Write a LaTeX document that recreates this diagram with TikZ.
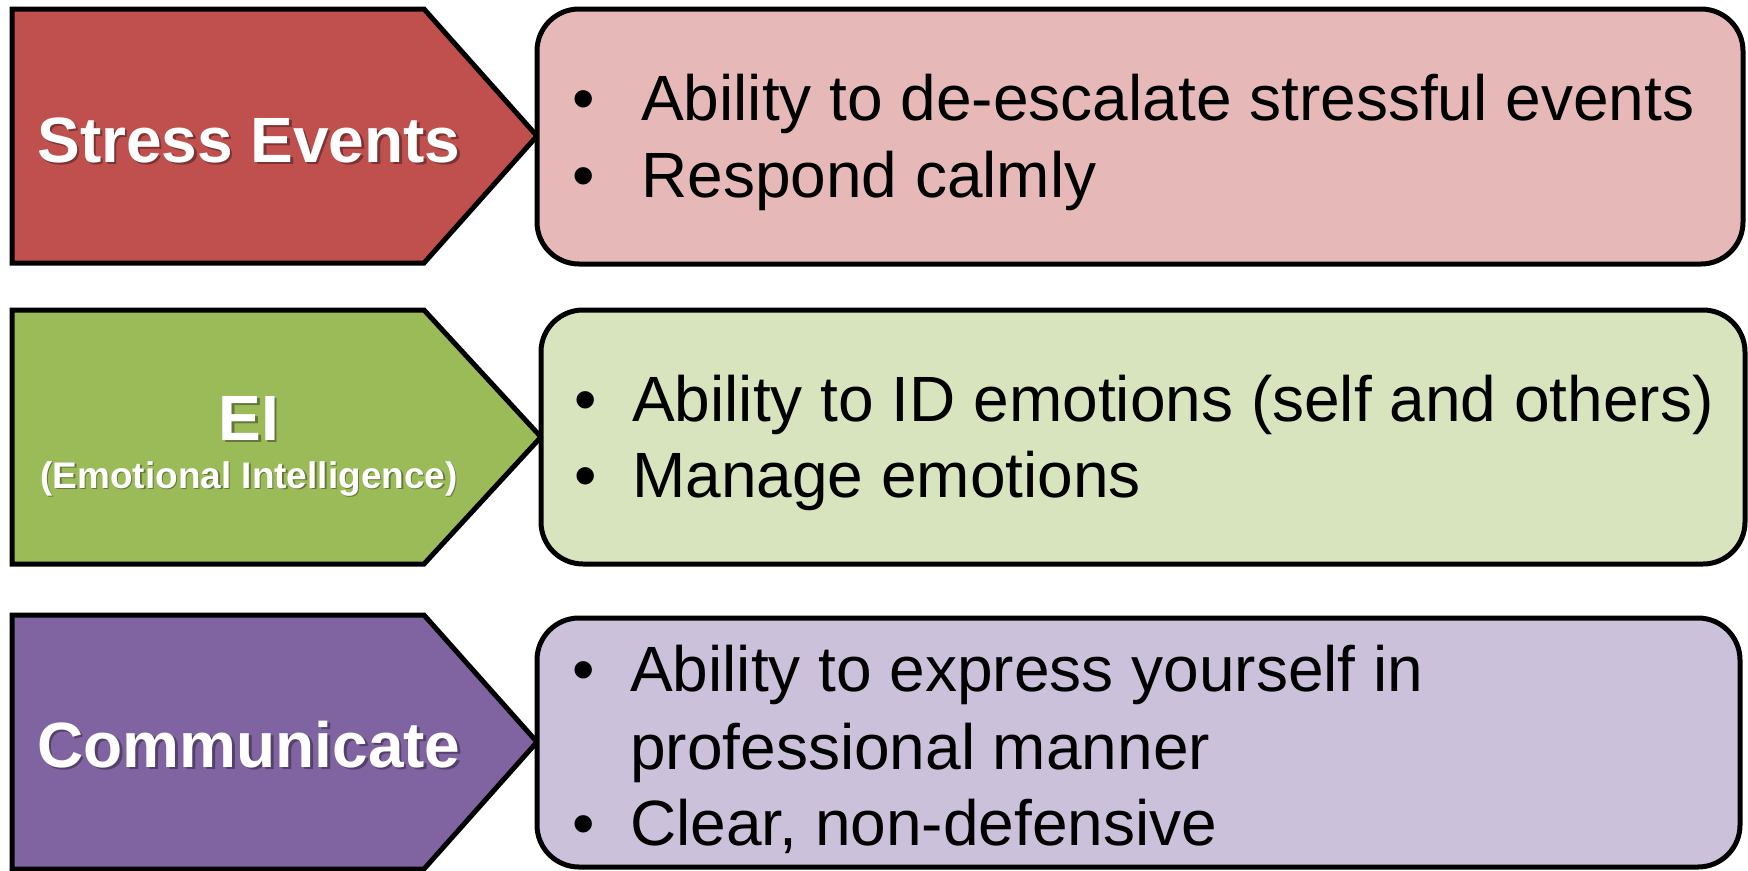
\documentclass[tikz,border=0pt]{standalone}
\usepackage{fontspec}
\setmainfont{Liberation Sans}
\definecolor{redD}{HTML}{C0504D}
\definecolor{redL}{HTML}{E6B9B8}
\definecolor{grnD}{HTML}{9BBB59}
\definecolor{grnL}{HTML}{D7E4BD}
\definecolor{purD}{HTML}{8064A2}
\definecolor{purL}{HTML}{CCC1DA}
\tikzset{
  chev/.style={draw=black, line width=5pt, line join=miter},
  rbox/.style={draw=black, line width=5pt, rounded corners=42pt},
  lbl/.style={inner sep=0pt, anchor=base, text=white, font=\bfseries\fontsize{64}{77}\selectfont},
  lblsm/.style={inner sep=0pt, anchor=base, text=white, font=\bfseries\fontsize{37}{44}\selectfont},
  shd/.style={text=black, opacity=0.35},
  body/.style={inner sep=0pt, anchor=base west, font=\fontsize{64}{77}\selectfont},
  bul/.style={inner sep=0pt, anchor=base, font=\fontsize{64}{77}\selectfont},
}
\begin{document}
\begin{tikzpicture}[x=1pt,y=-1pt]
\useasboundingbox (0,0) rectangle (1748,870);
% Row 1
\draw[chev, fill=redD] (12,9) -- (424,9) -- (537,136) -- (424,263) -- (12,263) -- cycle;
\draw[rbox, fill=redL] (537,9) rectangle (1743,264);
\node[lbl, shd] at (251.5,164.5) {Stress Events};
\node[lbl] (l1) at (249,162) {Stress Events};
\node[bul] (b11) at (584,120) {•};
\node[body] (t11) at (641,120) {Ability to de-escalate stressful events};
\node[bul] (b12) at (584,197) {•};
\node[body] (t12) at (641,197) {Respond calmly};
% Row 2
\draw[chev, fill=grnD] (12,310) -- (424,310) -- (541,437) -- (424,564) -- (12,564) -- cycle;
\draw[rbox, fill=grnL] (541,310) rectangle (1745,564);
\node[lbl, shd] at (251.5,442.5) {EI};
\node[lbl] (l2) at (249,440) {EI};
\node[lblsm, shd] at (250.5,489.5) {(Emotional Intelligence)};
\node[lblsm] (l2s) at (249,488) {(Emotional Intelligence)};
\node[bul] (b21) at (586,421) {•};
\node[body] (t21) at (632,421) {Ability to ID emotions (self and others)};
\node[bul] (b22) at (586,497) {•};
\node[body] (t22) at (632,497) {Manage emotions};
% Row 3
\draw[chev, fill=purD] (12,615) -- (424,615) -- (537,742) -- (424,869) -- (12,869) -- cycle;
\draw[rbox, fill=purL] (537,618) rectangle (1740,867);
\node[lbl, shd] at (251.5,769.5) {Communicate};
\node[lbl] (l3) at (249,767) {Communicate};
\node[bul] (b31) at (584,691) {•};
\node[body] (t31) at (630,691) {Ability to express yourself in};
\node[body] (t32) at (630,769) {professional manner};
\node[bul] (b33) at (584,845) {•};
\node[body] (t33) at (630,845) {Clear, non-defensive};
\end{tikzpicture}
\end{document}
